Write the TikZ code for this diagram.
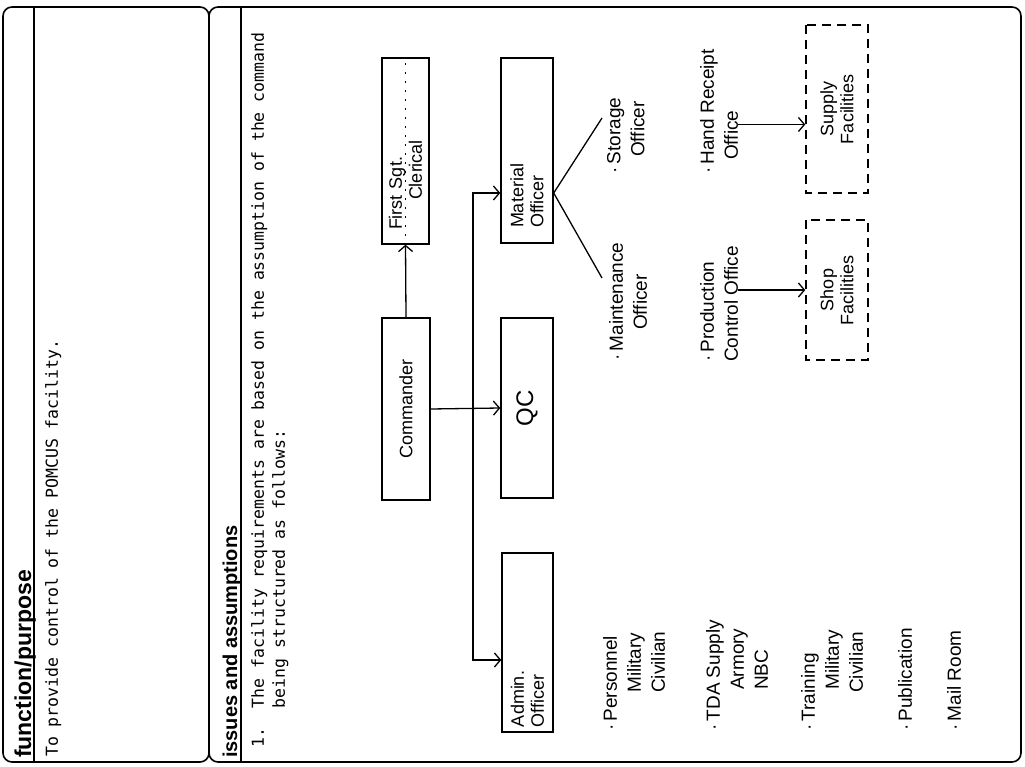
\documentclass[tikz,border=0pt]{standalone}
\usepackage{fontspec}
\usepackage{tikz}
\usetikzlibrary{arrows.meta}
\newfontfamily\typefont{DejaVu Sans Mono}
\newfontfamily\handfont{Liberation Sans}
\newfontfamily\headfont{Liberation Sans}

\begin{document}
\begin{tikzpicture}[
    x=1pt, y=-1pt,
    >={Straight Barb[length=6pt,width=14pt]},
    frame/.style={line width=1.6pt, rounded corners=9pt},
    rule/.style={line width=1.4pt},
    head/.style={rotate=90, anchor=base west, inner sep=0pt},
    body/.style={rotate=90, anchor=north west, inner sep=0pt, align=left,
      font=\typefont\fontsize{16.5}{21}\selectfont},
    hand/.style={rotate=90, anchor=north west, inner sep=0pt, align=left,
      font=\handfont\fontsize{19}{24}\selectfont},
    box/.style={draw, rotate=90, line width=1.4pt, inner ysep=0pt,
      font=\handfont\fontsize{18}{20}\selectfont},
    facil/.style={box, dash pattern=on 9pt off 6pt, align=center},
    link/.style={->, line width=1.3pt},
  ]
  \useasboundingbox (0,0) rectangle (1025,767);

  % ========= FRAME =========
  \draw[frame] (3,7) rectangle (209,762);
  \draw[frame] (209,7) rectangle (1021,762);
  \draw[rule] (34,7) -- (34,762);
  \draw[rule] (241,7) -- (241,762);

  % Headers
  \node[head, font=\headfont\bfseries\fontsize{23}{23}\selectfont] (fphead) at (31,758) {function/purpose};
  \node[head, font=\headfont\bfseries\fontsize{20}{20}\selectfont] (iahead) at (237,758) {issues and assumptions};

  % Body text
  \node[body] (purpose) at (45,757) {To provide control of the POMCUS facility.};
  \node[body] (item) at (251,748) {1.~~The facility requirements are based on the assumption of the command\\
    \phantom{1.~~}being structured as follows:};

  % ========= CHART =========
  \node[box, minimum width=186pt, minimum height=47pt, inner xsep=14pt, text width=158pt, align=left] (sgt) at (405.5,151) {First Sgt.\\\hspace*{30pt}Clerical};
  \node[box, minimum width=182pt, minimum height=48pt] (cmd) at (406,409) {Commander};
  \node[box, minimum width=180pt, minimum height=52pt, font=\handfont\fontsize{24}{24}\selectfont] (qc) at (527,408) {QC};
  \node[box, minimum width=179pt, minimum height=51pt, inner xsep=5pt, text width=169pt, align=left] (admin) at (527.5,642.5) {Admin.\\Officer};
  \node[box, minimum width=185pt, minimum height=52pt, inner xsep=15pt, text width=155pt, align=left] (mat) at (527,150.5) {Material\\Officer};

  \draw[dash pattern=on 2pt off 7pt, line width=1.3pt] (sgt.west) -- (sgt.east);

  % Connectors
  \coordinate (jt) at (473,193);
  \coordinate (jb) at (473,660);
  \draw[link] (cmd.east) -- (sgt.west);
  \draw[link] (cmd.south) -- (qc.north);
  \draw[link, <->] (mat.north |- jt) -- (jt) -- (jb) -- (admin.north |- jb);

  % Material fork
  \coordinate (fork) at (mat.south |- jt);
  \coordinate (forkup) at (602,118);
  \coordinate (forkdn) at (602,278);
  \draw[line width=1.3pt] (forkup) -- (fork) -- (forkdn);

  \node[hand] (stor) at (607,174) {\textperiodcentered\,Storage\\\hspace*{17pt}Officer};
  \node[hand] (maint) at (609,361) {\textperiodcentered\,Maintenance\\\hspace*{31pt}Officer};
  \node[hand] (prod) at (700,362) {\textperiodcentered\,Production\\Control Office};
  \node[hand] (hrcpt) at (700,174) {\textperiodcentered\,Hand Receipt\\\hspace*{14pt}Office};

  % Facilities
  \node[facil, minimum width=140pt, minimum height=62pt] (shop) at (837,290) {Shop\\Facilities};
  \node[facil, minimum width=168pt, minimum height=62pt] (supply) at (837,109) {Supply\\Facilities};

  \draw[link] (prod.south |- shop.north) -- (shop.north);
  \draw[link] ([yshift=-13pt]hrcpt.south) -- ([yshift=-13pt]hrcpt.south -| supply.north);

  % Admin list
  \node[hand] (pers) at (603,731) {\textperiodcentered\,Personnel\\\hspace*{38pt}Military\\\hspace*{38pt}Civilian};
  \node[hand] (tda) at (706,731) {\textperiodcentered\,TDA Supply\\\hspace*{41pt}Armory\\\hspace*{41pt}NBC};
  \node[hand] (train) at (801,731) {\textperiodcentered\,Training\\\hspace*{41pt}Military\\\hspace*{38pt}Civilian};
  \node[hand] (pub) at (898,731) {\textperiodcentered\,Publication};
  \node[hand] (mail) at (947,731) {\textperiodcentered\,Mail Room};
\end{tikzpicture}
\end{document}
